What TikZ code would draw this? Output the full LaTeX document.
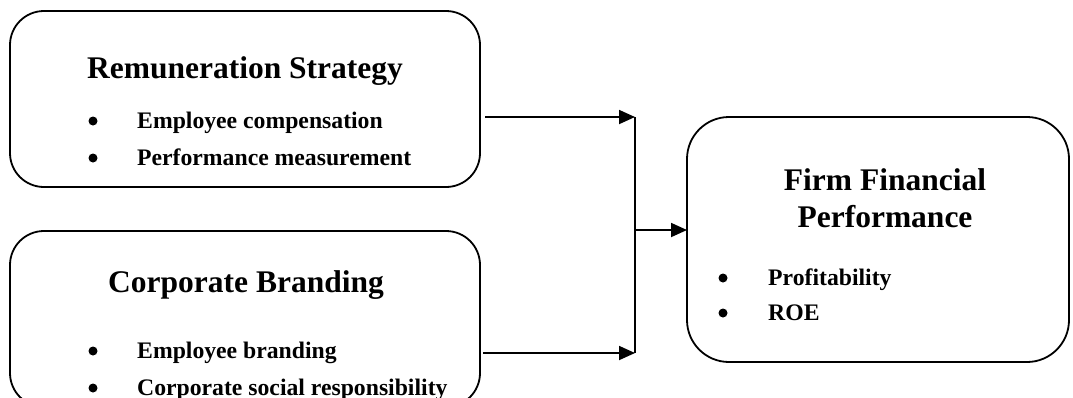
\documentclass[tikz,border=0pt]{standalone}
\usepackage{fontspec}
\setmainfont{Liberation Serif}
\usetikzlibrary{arrows.meta}
\begin{document}
\begin{tikzpicture}[x=1pt,y=-1pt,
  box/.style={draw, line width=1.8pt, rounded corners=34pt, inner sep=0pt, outer sep=0pt},
  ttl/.style={font=\fontsize{31.5}{36}\selectfont\bfseries, inner sep=0pt, anchor=base},
  itm/.style={font=\fontsize{23.7}{28}\selectfont\bfseries, inner sep=0pt, anchor=base west},
  bul/.style={circle, fill, inner sep=0pt, minimum size=9pt},
  conn/.style={line width=1.8pt},
  arr/.style={line width=1.8pt, -{Triangle[length=16pt,width=14pt]}}]
\useasboundingbox (0,0) rectangle (1073,397);
\begin{scope}
\clip (0,0) rectangle (1073,397);
% boxes
\node[box, minimum width=470pt, minimum height=176pt] (b1) at (245,99) {};
\node[box, minimum width=470pt, minimum height=176pt] (b2) at (245,319) {};
\node[box, rounded corners=42pt, minimum width=382pt, minimum height=245pt] (b3) at (878,239.5) {};
% box 1 text
\node[ttl] (t1) at (245,78) {Remuneration Strategy};
\node[bul] (p11) at (93,121) {};
\node[itm] (i11) at (137,128) {Employee compensation};
\node[bul] (p12) at (93,158) {};
\node[itm] (i12) at (137,165) {Performance measurement};
% box 2 text
\node[ttl] (t2) at (246,292) {Corporate Branding};
\node[bul] (p21) at (93,351) {};
\node[itm] (i21) at (137,358) {Employee branding};
\node[bul] (p22) at (93,388) {};
\node[itm] (i22) at (137,395) {Corporate social responsibility};
% box 3 text
\node[ttl] (t3a) at (885,190) {Firm Financial};
\node[ttl] (t3b) at (885,227) {Performance};
\node[bul] (p31) at (723,278) {};
\node[itm] (i31) at (768,285) {Profitability};
\node[bul] (p32) at (723,313) {};
\node[itm] (i32) at (768,320) {ROE};
\end{scope}
% connectors
\coordinate (j1) at (635,117);
\coordinate (j2) at (635,353);
\coordinate (jm) at (635,230);
\draw[arr] ([xshift=5pt]b1.east |- j1) -- (j1);
\draw[arr] ([xshift=3pt]b2.east |- j2) -- (j2);
\draw[conn] (j1) -- (j2);
\draw[arr] (jm) -- (b3.west |- jm);
\end{tikzpicture}
\end{document}
